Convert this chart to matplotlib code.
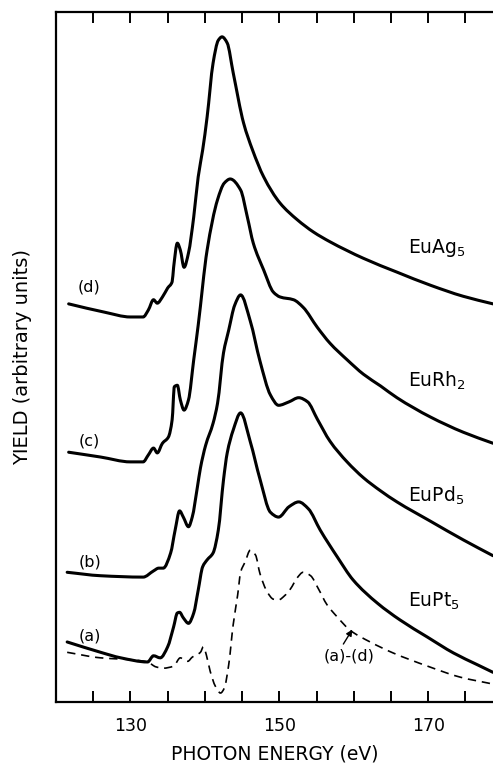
import matplotlib
matplotlib.use('Agg')
import matplotlib.pyplot as plt
from matplotlib.path import Path
from matplotlib.patches import PathPatch
from matplotlib.ticker import FixedLocator, FuncFormatter

# photon energy (eV) and yield (arbitrary units)
# (d) EuAg5
e_d = [121.7, 126.5, 130.0, 131.7, 132.4, 133.1, 133.6, 134.3, 135.0, 135.6, 135.8,
       136.3, 136.7, 137.2, 137.8, 138.5, 139.1, 139.7, 140.3, 141.1, 141.8, 142.3,
       143.0, 143.8, 145.2, 146.4, 147.9, 150.1, 152.4, 154.6, 156.8, 161.3, 165.8,
       170.3, 174.7, 178.7]
y_d = [57.7, 56.5, 55.8, 55.8, 56.8, 58.3, 57.8, 58.7, 60.0, 60.9, 63.0,
       66.5, 65.5, 63.0, 65.1, 70.3, 76.1, 80.0, 84.8, 92.6, 95.9, 96.4,
       95.5, 91.2, 83.9, 80.0, 76.1, 72.3, 69.9, 68.1, 66.7, 64.3, 62.3,
       60.4, 58.8, 57.7]

# (c) EuRh2
e_c = [121.7, 126.0, 130.0, 131.7, 132.4, 133.1, 133.6, 134.3, 135.1, 135.6, 135.9,
       136.3, 136.7, 137.2, 137.8, 138.5, 139.1, 140.3, 141.7, 142.6, 143.4, 144.8,
       145.7, 146.5, 147.9, 149.2, 150.1, 151.9, 153.2, 155.1, 156.8, 159.1, 161.3,
       163.6, 165.8, 170.3, 174.7, 178.7]
y_c = [36.2, 35.5, 34.8, 34.8, 35.8, 36.8, 36.1, 37.5, 38.4, 40.9, 45.7,
       45.9, 43.8, 42.3, 43.8, 49.6, 54.6, 65.5, 72.8, 75.2, 75.8, 74.2,
       70.3, 66.5, 62.6, 59.4, 58.7, 58.3, 57.2, 54.3, 52.0, 49.6, 47.5,
       45.8, 44.1, 41.3, 39.1, 37.5]

# (b) EuPd5
e_b = [121.5, 126.0, 131.7, 133.1, 133.8, 134.4, 135.4, 136.0, 136.6, 137.1, 137.8,
       138.3, 139.0, 139.4, 140.1, 141.1, 141.7, 142.5, 143.2, 144.0, 144.8, 146.1,
       147.4, 148.8, 149.9, 151.3, 152.6, 153.8, 155.1, 156.8, 159.1, 161.3, 163.6,
       165.8, 170.3, 174.7, 178.7]
y_b = [18.8, 18.3, 18.1, 19.0, 19.4, 19.4, 21.6, 24.9, 27.7, 26.8, 25.4,
       26.8, 31.2, 33.9, 37.2, 40.4, 43.3, 50.6, 53.9, 57.5, 59.0, 55.2,
       49.4, 44.5, 43.0, 43.5, 44.1, 43.5, 41.0, 37.8, 34.8, 32.5, 30.6,
       29.0, 26.2, 23.5, 21.2]

# (a) EuPt5
e_a = [121.5, 126.0, 128.7, 132.3, 133.1, 134.0, 135.0, 135.8, 136.3, 136.6, 137.1,
       137.8, 138.5, 139.1, 139.7, 140.3, 141.1, 141.8, 142.5, 143.0, 143.8, 144.8,
       146.1, 147.4, 148.8, 149.9, 151.3, 152.6, 153.9, 155.5, 157.8, 159.9, 163.2,
       166.2, 169.9, 173.4, 176.6, 178.7]
y_a = [8.7, 7.2, 6.4, 5.8, 6.7, 6.4, 8.0, 10.9, 12.9, 13.0, 12.2,
       11.4, 12.9, 16.2, 19.6, 20.6, 21.6, 24.9, 32.2, 36.1, 39.4, 41.9,
       37.7, 32.3, 27.5, 26.8, 28.3, 29.0, 28.0, 24.9, 21.0, 17.7, 14.3,
       11.9, 9.4, 7.1, 5.4, 4.3]

# difference (a)-(d)
e_diff = [121.5, 126.0, 130.4, 132.3, 133.4, 134.4, 135.8, 136.7, 137.2, 137.7, 138.3,
          139.4, 139.8, 140.2, 140.7, 141.4, 142.1, 142.6, 143.2, 143.8, 144.4, 144.8,
          145.4, 146.1, 146.8, 147.4, 148.4, 149.2, 149.9, 150.7, 151.5, 152.4, 153.2,
          154.2, 155.2, 156.4, 157.8, 159.5, 162.2, 165.3, 169.9, 174.3, 178.7]
y_diff = [7.2, 6.4, 6.1, 5.8, 5.1, 4.9, 5.2, 6.4, 6.1, 5.9, 6.5,
          7.2, 8.0, 6.8, 4.5, 2.3, 1.3, 2.0, 5.4, 11.2, 15.5, 18.8,
          20.3, 22.0, 21.3, 18.6, 15.9, 14.9, 14.8, 15.4, 16.4, 18.0, 18.8,
          18.3, 16.5, 14.1, 12.3, 10.4, 8.7, 7.1, 5.2, 3.6, 2.6]

curves = [(e_d, y_d), (e_c, y_c), (e_b, y_b), (e_a, y_a)]
curve_tags = ['(d)', '(c)', '(b)', '(a)']
tag_pos = [(124.4, 60.1), (124.4, 37.8), (124.5, 20.3), (124.5, 9.6)]
compounds = ['EuAg$_5$', 'EuRh$_2$', 'EuPd$_5$', 'EuPt$_5$']
compound_pos = [(167.3, 65.1), (167.3, 45.7), (167.3, 29.0), (167.3, 13.8)]

tick_vals = [125, 130, 135, 140, 145, 150, 155, 160, 165, 170, 175]
labelled = [130, 150, 170]


def smooth_path(xs, ys):
    #monotone cubic (pchip style) through the read points, drawn as bezier segments
    n = len(xs)
    h = [xs[i + 1] - xs[i] for i in range(n - 1)]
    d = [(ys[i + 1] - ys[i]) / h[i] for i in range(n - 1)]
    m = [0.0] * n
    m[0] = d[0]
    m[-1] = d[-1]
    for k in range(1, n - 1):
        if d[k - 1] * d[k] <= 0:
            m[k] = 0.0
        else:
            w1 = 2 * h[k] + h[k - 1]
            w2 = h[k] + 2 * h[k - 1]
            m[k] = (w1 + w2) / (w1 / d[k - 1] + w2 / d[k])
    verts = [(xs[0], ys[0])]
    codes = [Path.MOVETO]
    for i in range(n - 1):
        t = h[i] / 3.0
        verts += [(xs[i] + t, ys[i] + m[i] * t),
                  (xs[i + 1] - t, ys[i + 1] - m[i + 1] * t),
                  (xs[i + 1], ys[i + 1])]
        codes += [Path.CURVE4] * 3
    return Path(verts, codes)


fig = plt.figure(figsize=(4.93, 7.63), dpi=100)
ax = fig.add_axes([56 / 493, 1 - 702 / 763, 1 - 56 / 493, 690 / 763])

#solid spectra
for (e, y) in curves:
    ax.add_patch(PathPatch(smooth_path(e, y), fill=False, edgecolor='black', lw=2.2,
                           joinstyle='round', capstyle='round'))

#difference spectrum
ax.add_patch(PathPatch(smooth_path(e_diff, y_diff), fill=False, edgecolor='black',
                       lw=1.2, linestyle=(0, (5, 3.5))))

for t, (x, y) in zip(curve_tags, tag_pos):
    ax.text(x, y, t, fontsize=11.5, ha='center', va='center')

for t, (x, y) in zip(compounds, compound_pos):
    ax.text(x, y, t, fontsize=13.5, ha='left', va='baseline')

ax.text(159.3, 6.6, '(a)-(d)', fontsize=11.5, ha='center', va='center')
ax.annotate('', xy=(159.8, 10.5), xytext=(158.6, 8.4),
            arrowprops=dict(arrowstyle='-|>', color='black', lw=1.0,
                            mutation_scale=9, shrinkA=0, shrinkB=0))

ax.set_xlim(120, 178.7)
ax.set_ylim(0, 100)

ax.xaxis.set_major_locator(FixedLocator(tick_vals))
ax.xaxis.set_major_formatter(FuncFormatter(lambda v, p: '%d' % v if int(round(v)) in labelled else ''))
ax.tick_params(axis='x', which='major', direction='in', length=8, width=1.4,
               top=True, bottom=True, labelsize=12.5, pad=11)
ax.set_yticks([])

for s in ['left', 'bottom', 'top']:
    ax.spines[s].set_linewidth(1.6)
ax.spines['right'].set_visible(False)

ax.set_xlabel('PHOTON ENERGY (eV)', fontsize=13.5, labelpad=7)
ax.set_ylabel('YIELD (arbitrary units)', fontsize=14, labelpad=17)

fig.savefig('out.png', dpi=100)
